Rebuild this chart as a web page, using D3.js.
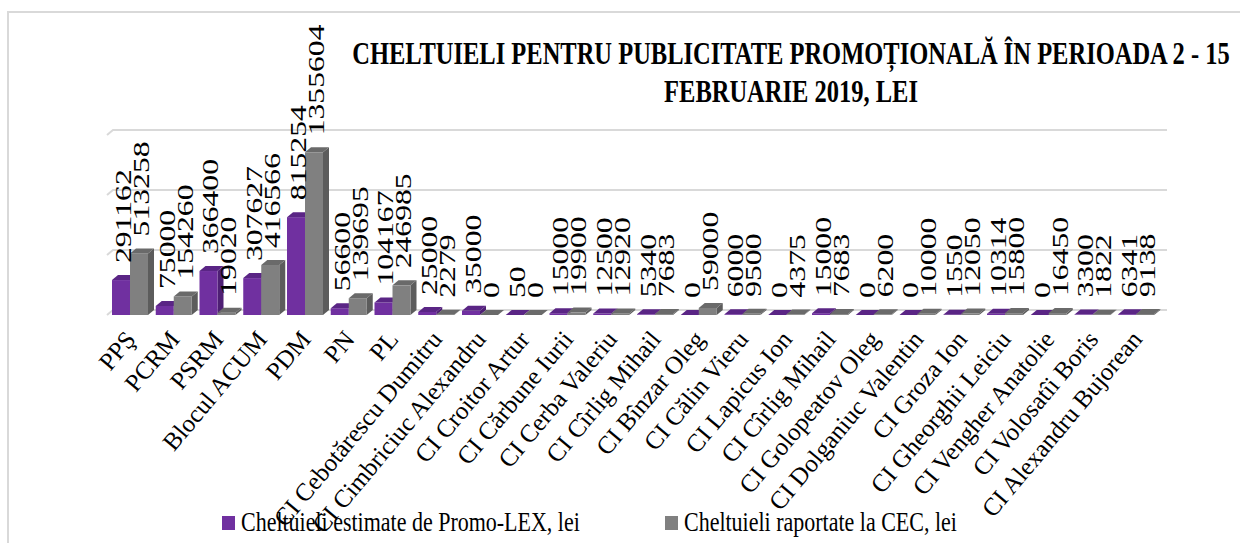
<!DOCTYPE html>
<html>
<head>
<meta charset="utf-8">
<script src="https://cdn.jsdelivr.net/npm/d3@7"></script>
<style>
  body { margin: 0; background: #fff; }
  text { font-family: "Liberation Serif", "DejaVu Serif", serif; }
</style>
</head>
<body>
<div class="chart"></div>
<script>
let categories = [
  'PPŞ', 'PCRM', 'PSRM', 'Blocul ACUM', 'PDM', 'PN', 'PL',
  'CI Cebotărescu Dumitru', 'CI Cimbriciuc Alexandru', 'CI Croitor Artur',
  'CI Cărbune Iurii', 'CI Cerba Valeriu', 'CI Cîrlig Mihail', 'CI Bînzar Oleg',
  'CI Călin Vieru', 'CI Lapicus Ion', 'CI Cîrlig Mihail', 'CI Golopeatov Oleg',
  'CI Dolganiuc Valentin', 'CI Groza Ion', 'CI Gheorghii Leiciu',
  'CI Vengher Anatolie', 'CI Volosatîi Boris', 'CI Alexandru Bujorean'
];
let promoLex = [
  291162, 75000, 366400, 307627, 815254, 56600, 104167,
  25000, 35000, 50, 15000, 12500, 5340, 0,
  6000, 0, 15000, 0, 0, 1550, 10314, 0, 3300, 6341
];
let cec = [
  513258, 154260, 19020, 416566, 1355604, 139695, 246985,
  2279, 0, 0, 19900, 12920, 7683, 59000,
  9500, 4375, 7683, 6200, 10000, 12050, 15800, 16450, 1822, 9138
];
let seriesNames = ['Cheltuieli estimate de Promo-LEX, lei', 'Cheltuieli raportate la CEC, lei'];
let gridTicks = [0, 500000, 1000000, 1500000];
let titleLines = ['CHELTUIELI PENTRU PUBLICITATE PROMOȚIONALĂ ÎN PERIOADA 2 - 15', 'FEBRUARIE 2019, LEI'];

const W = 1240, H = 543;
const DX = 6, DY = 5;       // depth of the fake 3d
const STRETCH = 1.32;       // the original is stretched vertically

// colours: front, top, side
const palette = [
  { front: '#7030a0', top: '#5a2585', side: '#4e1f74' },
  { front: '#808080', top: '#6a6a6a', side: '#5c5c5c' }
];

let svg = d3.select('.chart').append('svg')
  .attr('width', W).attr('height', H);

// outer frame
svg.append('path')
  .attr('d', `M8,${H} L8,12 L${W},12`)
  .attr('fill', 'none').attr('stroke', '#d9d9d9').attr('stroke-width', 2);

let y = d3.scaleLinear().domain([0, 1500000]).range([310, 130]);
let x = d3.scaleBand().domain(d3.range(categories.length)).range([112, 1162]);
let xs = d3.scaleBand().domain([0, 1]).range([0, 36]);

// gridlines on the back wall
svg.append('g').selectAll('path').data(gridTicks).enter().append('path')
  .attr('d', d => `M${113 - DX},${y(d) + DY} L113,${y(d)} L1167,${y(d)}`)
  .attr('fill', 'none').attr('stroke', '#d9d9d9').attr('stroke-width', 2);

let rows = categories.map((c, i) => ({ i: i, vals: [promoLex[i], cec[i]] }));

let group = svg.append('g').selectAll('g').data(rows).enter().append('g')
  .attr('transform', d => `translate(${x(d.i)},0)`);

function barPaths(sel) {
  sel.each(function(d) {
    let g = d3.select(this);
    let x0 = xs(d.s), w = xs.bandwidth();
    let yt = y(d.v) + DY, yb = y(0) + DY;
    let c = palette[d.s];
    // side
    g.append('path')
      .attr('d', `M${x0 + w},${yb} L${x0 + w + DX},${yb - DY} L${x0 + w + DX},${yt - DY} L${x0 + w},${yt} Z`)
      .attr('fill', c.side);
    // front
    g.append('rect')
      .attr('x', x0).attr('y', yt).attr('width', w).attr('height', Math.max(0, yb - yt))
      .attr('fill', c.front);
    // top
    g.append('path')
      .attr('d', `M${x0},${yt} L${x0 + DX},${yt - DY} L${x0 + w + DX},${yt - DY} L${x0 + w},${yt} Z`)
      .attr('fill', c.top);
  });
}

group.selectAll('g.bar')
  .data(d => d.vals.map((v, s) => ({ v: v, s: s })))
  .enter().append('g').attr('class', 'bar')
  .call(barPaths);

// value labels, rotated
group.selectAll('text.val')
  .data(d => d.vals.map((v, s) => ({ v: v, s: s })))
  .enter().append('text').attr('class', 'val')
  .attr('transform', d => `translate(${xs(d.s) + xs.bandwidth() / 2 + 2},${y(d.v) - 12}) scale(1,${STRETCH}) rotate(-90)`)
  .attr('dy', '0.33em')
  .attr('font-size', 24)
  .attr('fill', '#000')
  .text(d => d.v);

// category labels
group.append('text')
  .attr('transform', `translate(25,340) rotate(-50)`)
  .attr('text-anchor', 'end')
  .attr('font-size', 25)
  .attr('fill', '#000')
  .text(d => categories[d.i]);

// title
svg.append('g').selectAll('text').data(titleLines).enter().append('text')
  .attr('transform', (d, i) => `translate(791,${64 + i * 38}) scale(1,1.31)`)
  .attr('text-anchor', 'middle')
  .attr('font-size', 24.5)
  .attr('font-weight', 'bold')
  .attr('fill', '#000')
  .text(d => d);

// legend
let legendX = [222, 665];
let legend = svg.append('g').selectAll('g').data(seriesNames).enter().append('g')
  .attr('transform', (d, i) => `translate(${legendX[i]},0)`);
legend.append('rect')
  .attr('x', 0).attr('y', 516).attr('width', 13).attr('height', 14)
  .attr('fill', (d, i) => palette[i].front);
legend.append('text')
  .attr('transform', 'translate(19,531) scale(1,1.27)')
  .attr('font-size', 22)
  .attr('fill', '#000')
  .text(d => d);
</script>
</body>
</html>
